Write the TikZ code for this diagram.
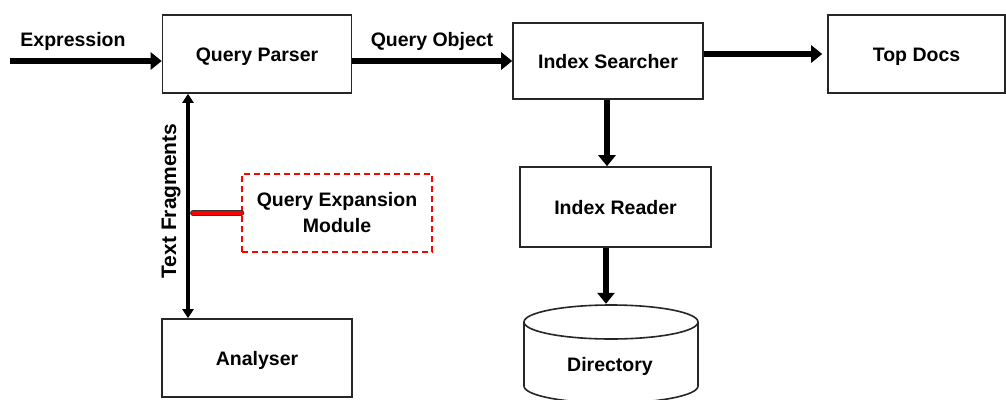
\documentclass[tikz,border=0pt]{standalone}
\usepackage{fontspec}
\setmainfont{Liberation Sans}
\usetikzlibrary{arrows.meta,calc}
\begin{document}
\begin{tikzpicture}[x=1pt,y=-1pt,
  every node/.style={font=\fontsize{19.5}{23}\selectfont\bfseries},
  box/.style={draw=black!85, line width=1.6pt, fill=white, inner sep=0pt, text height=18pt, text depth=4pt},
  flow/.style={line width=6pt, -{Triangle[length=11pt,width=17pt]}},
  dflow/.style={line width=4pt, {Triangle[length=9pt,width=11pt]}-{Triangle[length=9pt,width=11pt]}},
  lbl/.style={inner sep=0pt}]
\useasboundingbox (0,0) rectangle (1006,399);
\clip (0,0) rectangle (1006,399);
% boxes
\node[box, minimum width=189pt, minimum height=78pt] (qp) at (257,54) {Query Parser};
\node[box, minimum width=190pt, minimum height=76pt] (is) at (608,61) {Index Searcher};
\node[box, minimum width=177pt, minimum height=78pt] (td) at (916.5,54) {Top Docs};
\node[box, minimum width=191pt, minimum height=80pt] (ir) at (615.5,207) {Index Reader};
\node[box, minimum width=190pt, minimum height=78pt] (an) at (257,358) {Analyser};
\node[draw=red, dashed, dash pattern=on 6pt off 4pt, line width=1.4pt, minimum width=190pt, minimum height=78pt, align=center, inner sep=0pt] (qe) at (337,213) {Query Expansion\\[3pt]Module};
% cylinder
\node[minimum width=174pt, minimum height=96pt, inner sep=0pt] (dir) at (611,352) {};
\draw[black!85, line width=1.6pt, fill=white] (524,322) -- (524,386) arc[start angle=180, end angle=360, x radius=87pt, y radius=17pt] -- (698,322);
\draw[black!85, line width=1.6pt, fill=white] (611,322) ellipse[x radius=87pt, y radius=17pt];
\node[lbl] at (610,366) {Directory};
% connectors
\coordinate (ein) at (10,61);
\draw[flow] (ein) -- (ein -| qp.west);
\node[lbl] at (73,41) {Expression};
\draw[flow] (qp.east |- is.west) -- (is.west);
\node[lbl] at (432,41) {Query Object};
\draw[flow, shorten >=5pt] (is.east |- td.west) -- (td.west);
\draw[flow] (is.south -| 607,0) -- (ir.north -| 607,0);
\draw[flow] (ir.south -| 606,0) -- (dir.north -| 606,0);
\draw[dflow] (qp.south -| 188,0) -- (an.north -| 188,0);
\node[lbl, rotate=90, font=\fontsize{21}{25}\selectfont\bfseries] at (171,201) {Text Fragments};
\draw[line width=1.2pt, black!80, double=red, double distance=3.5pt, line cap=round] (qe.west -| 193,0) -- (qe.west);
\end{tikzpicture}
\end{document}
